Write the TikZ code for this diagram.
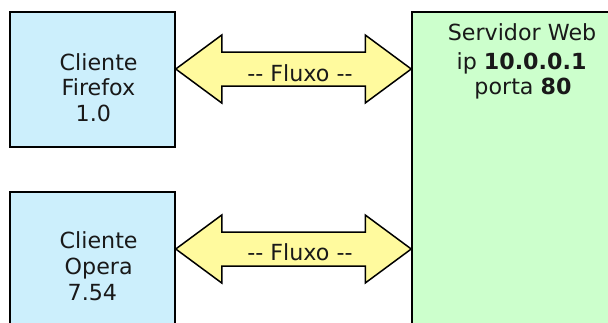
\documentclass[tikz,border=0pt]{standalone}
\usepackage{fontspec}
\setmainfont{DejaVu Sans}[Ligatures=NoCommon]
\usetikzlibrary{calc}
\begin{document}
\begin{tikzpicture}[x=1pt,y=-1pt,
  box/.style={draw=black,line width=1.5pt},
  client/.style={box,fill=cyan!20},
  server/.style={box,fill=green!20},
  flow/.style={draw=black,line width=1.5pt,fill=yellow!38,line join=miter},
  txt/.style={inner sep=0pt,font=\fontsize{22.2}{25}\selectfont,text=black!90},
  lbl/.style={txt,anchor=base west}]
\useasboundingbox (0,0) rectangle (608,322);
\clip (0,0) rectangle (608,322);
% boxes
\node[client,minimum width=165pt,minimum height=135pt,inner sep=0pt] (c1) at (92.5,79.5) {};
\node[client,minimum width=165pt,minimum height=150pt,inner sep=0pt] (c2) at (92.5,267) {};
\node[server,minimum width=230pt,minimum height=340pt,inner sep=0pt] (srv) at (527,182) {};
% client texts
\node[lbl] (c1a) at (59.5,70) {Cliente};
\node[lbl] (c1b) at (61.5,95) {Firefox};
\node[lbl] (c1c) at (75.5,121) {1.0};
\node[lbl] (c2a) at (59.5,248) {Cliente};
\node[lbl] (c2b) at (64.5,274) {Opera};
\node[lbl] (c2c) at (67.5,300) {7.54};
% server text
\node[txt,anchor=base] (s1) at (522,40) {Servidor Web};
\node[txt,anchor=base] (s2) at (521.5,69) {ip \textbf{10.0.0.1}};
\node[txt,anchor=base] (s3) at (523,94) {porta \textbf{80}};
% arrows
\coordinate (l1) at (c1.east |- 0,69);
\coordinate (r1) at (srv.west |- 0,69);
\coordinate (l2) at (c2.east |- 0,249);
\coordinate (r2) at (srv.west |- 0,249);
\foreach \a/\b in {l1/r1,l2/r2}{
  \draw[flow] (\a) -- ++(46,-34) -- ++(0,17) -- ($(\b)+(-46,-17)$) -- ++(0,-17)
    -- (\b) -- ++(-46,34) -- ++(0,-17) -- ($(\a)+(46,17)$) -- ++(0,17) -- cycle;
}
\node[txt,anchor=base] (f1) at (300,81) {-{}- Fluxo -{}-};
\node[txt,anchor=base] (f2) at (300,260) {-{}- Fluxo -{}-};
\end{tikzpicture}
\end{document}
